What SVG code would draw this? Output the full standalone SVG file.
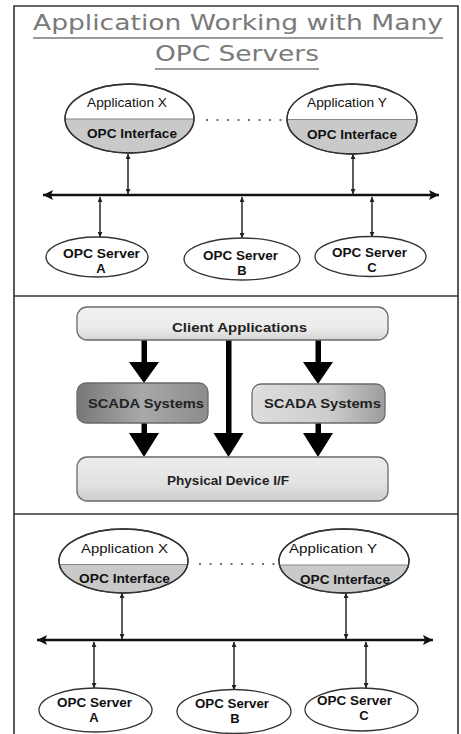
<svg xmlns="http://www.w3.org/2000/svg" width="461" height="734" viewBox="0 0 461 734">
<style>
.frame{stroke:#333;stroke-width:1.6;fill:none}
.title{font-family:"DejaVu Sans","Liberation Sans",sans-serif;font-size:22px;fill:#7a7a7a}
.uline{stroke:#7a7a7a;stroke-width:1.6}
.app{stroke:#333;stroke-width:1.3}
.div{stroke:#888;stroke-width:1.2}
.srv{fill:#fff;stroke:#333;stroke-width:1.3}
.lbl{font-family:"Liberation Sans",Arial,sans-serif;font-size:13px;fill:#111}
.b{font-weight:bold}
.bus{stroke:#111;stroke-width:2.6;fill:none}
.con{stroke:#333;stroke-width:1.6;fill:none}
.dots{stroke:#444;stroke-width:1.4;stroke-dasharray:2 8.5;fill:none}
.box{stroke:#6a6a6a;stroke-width:1.3}
.big{fill:#000}
.blbl{font-family:"Liberation Sans",Arial,sans-serif;font-weight:bold;font-size:13px;fill:#222}
</style>
<defs>
<linearGradient id="split1" x1="0" y1="0" x2="0" y2="1">
<stop offset="0" stop-color="#fff"/><stop offset="0.505" stop-color="#fff"/><stop offset="0.505" stop-color="#c9c9c9"/><stop offset="1" stop-color="#c9c9c9"/>
</linearGradient>
<linearGradient id="split3" x1="0" y1="0" x2="0" y2="1">
<stop offset="0" stop-color="#fff"/><stop offset="0.555" stop-color="#fff"/><stop offset="0.555" stop-color="#c9c9c9"/><stop offset="1" stop-color="#c9c9c9"/>
</linearGradient>
<linearGradient id="gClient" x1="0" y1="0" x2="0" y2="1">
<stop offset="0" stop-color="#f1f1f1"/><stop offset="0.6" stop-color="#ececec"/><stop offset="1" stop-color="#d6d6d6"/>
</linearGradient>
<linearGradient id="gPhys" x1="0" y1="0" x2="0" y2="1">
<stop offset="0" stop-color="#ececec"/><stop offset="0.6" stop-color="#e2e2e2"/><stop offset="1" stop-color="#cdcdcd"/>
</linearGradient>
<linearGradient id="gScadaL" x1="0" y1="0" x2="1" y2="0">
<stop offset="0" stop-color="#777"/><stop offset="0.5" stop-color="#a9a9a9"/><stop offset="1" stop-color="#8c8c8c"/>
</linearGradient>
<linearGradient id="gScadaR" x1="0" y1="0" x2="1" y2="0">
<stop offset="0" stop-color="#dedede"/><stop offset="0.6" stop-color="#cbcbcb"/><stop offset="1" stop-color="#9c9c9c"/>
</linearGradient>
<marker id="sh" viewBox="0 0 10 10" refX="10" refY="5" markerWidth="6" markerHeight="5" markerUnits="userSpaceOnUse" orient="auto-start-reverse">
<path d="M0,0 L10,5 L0,10 Z" fill="#222"/>
</marker>
<marker id="bh" viewBox="0 0 10 10" refX="10" refY="5" markerWidth="11" markerHeight="10" markerUnits="userSpaceOnUse" orient="auto-start-reverse">
<path d="M0,0 L10,5 L0,10 L2,5 Z" fill="#111"/>
</marker>
</defs>
<rect width="461" height="734" fill="#fff"/>

<g id="frame">
<path class="frame" d="M14,734 V6 H458 V734"/>
<line class="frame" x1="14" y1="296" x2="458" y2="296"/>
<line class="frame" x1="14" y1="514" x2="458" y2="514"/>
</g>

<g id="title">
<text class="title" x="33" y="30" textLength="410" lengthAdjust="spacingAndGlyphs">Application Working with Many</text>
<line class="uline" x1="33" y1="38" x2="443" y2="38"/>
<text class="title" x="155" y="61" textLength="164" lengthAdjust="spacingAndGlyphs">OPC Servers</text>
<line class="uline" x1="155" y1="69" x2="319" y2="69"/>
</g>

<!-- Section 1 -->
<g id="connectors1">
<line class="bus" x1="43" y1="195" x2="439" y2="195" marker-start="url(#bh)" marker-end="url(#bh)"/>
<line class="con" x1="128" y1="154" x2="128" y2="194" marker-start="url(#sh)" marker-end="url(#sh)"/>
<line class="con" x1="353" y1="154" x2="353" y2="194" marker-start="url(#sh)" marker-end="url(#sh)"/>
<line class="con" x1="100" y1="197" x2="100" y2="237" marker-start="url(#sh)" marker-end="url(#sh)"/>
<line class="con" x1="242" y1="197" x2="242" y2="238" marker-start="url(#sh)" marker-end="url(#sh)"/>
<line class="con" x1="372" y1="197" x2="372" y2="237" marker-start="url(#sh)" marker-end="url(#sh)"/>
<line class="dots" x1="206" y1="120" x2="282" y2="120"/>
</g>
<g id="appX1">
<ellipse class="app" cx="129.5" cy="118.5" rx="64.5" ry="34.5" fill="url(#split1)"/>
<line class="div" x1="66" y1="119" x2="193" y2="119"/>
<ellipse cx="129.5" cy="118.5" rx="64.5" ry="34.5" fill="none" stroke="#333" stroke-width="1.3"/>
<text class="lbl" x="87" y="107" textLength="80" lengthAdjust="spacingAndGlyphs">Application X</text>
<text class="lbl b" x="87" y="138" textLength="90" lengthAdjust="spacingAndGlyphs">OPC Interface</text>
</g>
<g id="appY1">
<ellipse class="app" cx="352" cy="119" rx="65" ry="35" fill="url(#split1)"/>
<line class="div" x1="288" y1="119.5" x2="416" y2="119.5"/>
<ellipse cx="352" cy="119" rx="65" ry="35" fill="none" stroke="#333" stroke-width="1.3"/>
<text class="lbl" x="307" y="107" textLength="80" lengthAdjust="spacingAndGlyphs">Application Y</text>
<text class="lbl b" x="307" y="139" textLength="90" lengthAdjust="spacingAndGlyphs">OPC Interface</text>
</g>
<g id="srvA1">
<ellipse class="srv" cx="97" cy="257" rx="51" ry="20"/>
<text class="lbl b" x="63" y="258" textLength="77" lengthAdjust="spacingAndGlyphs">OPC Server</text>
<text class="lbl b" x="101" y="273" text-anchor="middle">A</text>
</g>
<g id="srvB1">
<ellipse class="srv" cx="242" cy="259" rx="58" ry="21"/>
<text class="lbl b" x="203" y="260" textLength="75" lengthAdjust="spacingAndGlyphs">OPC Server</text>
<text class="lbl b" x="242" y="275" text-anchor="middle">B</text>
</g>
<g id="srvC1">
<ellipse class="srv" cx="370.5" cy="256.5" rx="55.5" ry="20"/>
<text class="lbl b" x="332" y="257" textLength="75" lengthAdjust="spacingAndGlyphs">OPC Server</text>
<text class="lbl b" x="372" y="272" text-anchor="middle">C</text>
</g>

<!-- Section 2 -->
<g id="connectors2">
<path class="big" d="M141.5,340 h5.5 v22 h12 l-15,21 l-15,-21 h12.5 z"/>
<path class="big" d="M315.5,340 h5.5 v22 h12 l-15,22 l-15,-22 h12.5 z"/>
<path class="big" d="M226,340 h5.5 v93 h12 l-15,24 l-15,-24 h12.5 z"/>
<path class="big" d="M141.5,423 h5.5 v10 h12 l-15,24 l-15,-24 h12.5 z"/>
<path class="big" d="M315.5,423 h5.5 v10 h12 l-15,24 l-15,-24 h12.5 z"/>
</g>
<g id="client">
<rect class="box" x="77" y="307" width="311" height="33" rx="10" fill="url(#gClient)"/>
<text class="blbl" x="172" y="332" textLength="135" lengthAdjust="spacingAndGlyphs">Client Applications</text>
</g>
<g id="scadaL">
<rect class="box" x="77" y="383" width="131" height="40" rx="9" fill="url(#gScadaL)"/>
<text class="blbl" x="88" y="408" textLength="116" lengthAdjust="spacingAndGlyphs">SCADA Systems</text>
</g>
<g id="scadaR">
<rect class="box" x="252" y="384" width="133" height="39" rx="9" fill="url(#gScadaR)"/>
<text class="blbl" x="264" y="408" textLength="117" lengthAdjust="spacingAndGlyphs">SCADA Systems</text>
</g>
<g id="physical">
<rect class="box" x="77" y="457" width="311" height="44" rx="10" fill="url(#gPhys)"/>
<text class="blbl" x="167" y="485" textLength="122" lengthAdjust="spacingAndGlyphs">Physical Device I/F</text>
</g>

<!-- Section 3 -->
<g id="connectors3">
<line class="bus" x1="37" y1="640" x2="433" y2="640" marker-start="url(#bh)" marker-end="url(#bh)"/>
<line class="con" x1="122" y1="593" x2="122" y2="639" marker-start="url(#sh)" marker-end="url(#sh)"/>
<line class="con" x1="346" y1="593" x2="346" y2="639" marker-start="url(#sh)" marker-end="url(#sh)"/>
<line class="con" x1="94" y1="642" x2="94" y2="688" marker-start="url(#sh)" marker-end="url(#sh)"/>
<line class="con" x1="234" y1="642" x2="234" y2="690" marker-start="url(#sh)" marker-end="url(#sh)"/>
<line class="con" x1="366" y1="642" x2="366" y2="688" marker-start="url(#sh)" marker-end="url(#sh)"/>
<line class="dots" x1="199" y1="564" x2="278" y2="564"/>
</g>
<g id="appX3">
<ellipse class="app" cx="123.5" cy="561" rx="64.5" ry="32" fill="url(#split3)"/>
<line class="div" x1="60" y1="564.5" x2="187" y2="564.5"/>
<ellipse cx="123.5" cy="561" rx="64.5" ry="32" fill="none" stroke="#333" stroke-width="1.3"/>
<text class="lbl" x="81" y="553" textLength="87" lengthAdjust="spacingAndGlyphs">Application X</text>
<text class="lbl b" x="79" y="583" textLength="91" lengthAdjust="spacingAndGlyphs">OPC Interface</text>
</g>
<g id="appY3">
<ellipse class="app" cx="344" cy="561" rx="65" ry="32" fill="url(#split3)"/>
<line class="div" x1="280" y1="565" x2="408" y2="565"/>
<ellipse cx="344" cy="561" rx="65" ry="32" fill="none" stroke="#333" stroke-width="1.3"/>
<text class="lbl" x="289" y="553" textLength="88" lengthAdjust="spacingAndGlyphs">Application Y</text>
<text class="lbl b" x="300" y="584" textLength="90" lengthAdjust="spacingAndGlyphs">OPC Interface</text>
</g>
<g id="srvA3">
<ellipse class="srv" cx="95.5" cy="710" rx="56.5" ry="22"/>
<text class="lbl b" x="57" y="707" textLength="75" lengthAdjust="spacingAndGlyphs">OPC Server</text>
<text class="lbl b" x="94" y="722" text-anchor="middle">A</text>
</g>
<g id="srvB3">
<ellipse class="srv" cx="234" cy="711.5" rx="57" ry="22"/>
<text class="lbl b" x="195" y="708" textLength="74" lengthAdjust="spacingAndGlyphs">OPC Server</text>
<text class="lbl b" x="235" y="723" text-anchor="middle">B</text>
</g>
<g id="srvC3">
<ellipse class="srv" cx="361.5" cy="709.5" rx="56.5" ry="21.5"/>
<text class="lbl b" x="317" y="705" textLength="75" lengthAdjust="spacingAndGlyphs">OPC Server</text>
<text class="lbl b" x="364" y="720" text-anchor="middle">C</text>
</g>
</svg>
